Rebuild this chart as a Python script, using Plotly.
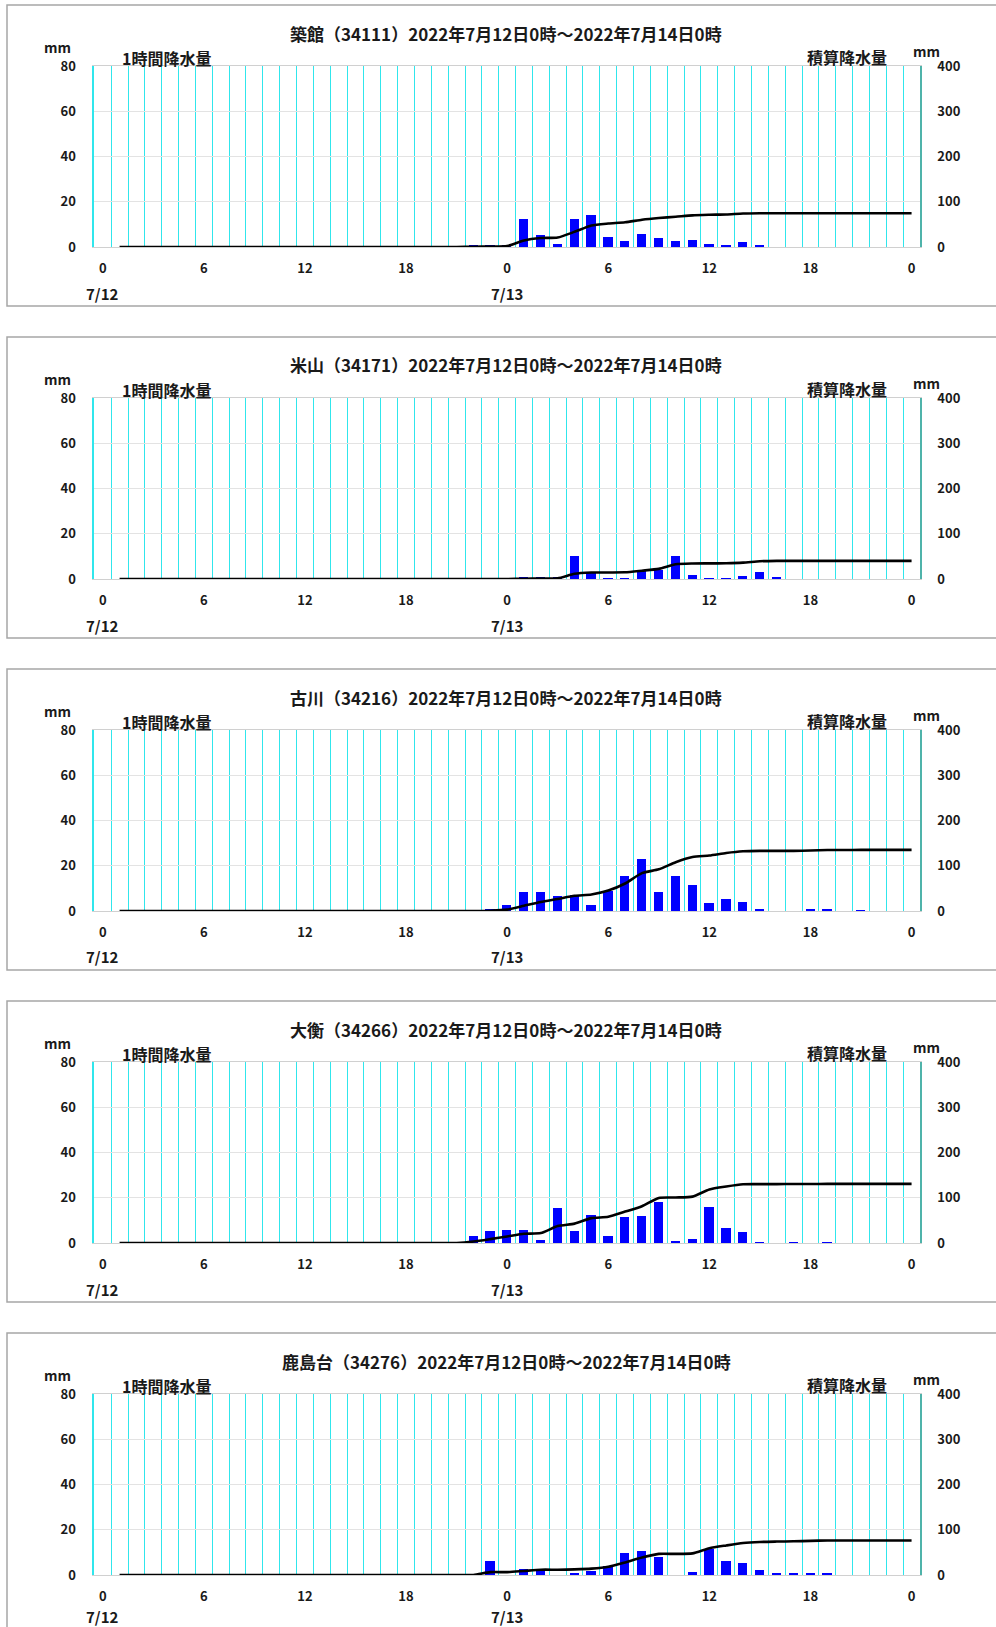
import numpy as np
import plotly.graph_objects as go

# ---- data -------------------------------------------------------------
# hour-ending positions 1..48 (0 = 7/12 0時, 24 = 7/13 0時, 48 = 7/14 0時)
HOURS = list(range(1, 49))
X_TICKVALS = [0, 6, 12, 18, 24, 30, 36, 42, 48]
X_TICKTEXT = ["0", "6", "12", "18", "0", "6", "12", "18", "0"]
DAY_LABELS = ["7/12", "7/13"]
DAY_POS = [0, 24]

STATIONS = ["築館（34111）", "米山（34171）", "古川（34216）", "大衡（34266）", "鹿島台（34276）"]
PERIOD = "2022年7月12日0時～2022年7月14日0時"

# 1時間降水量 (mm), hours 1..48
rain_tsukidate = [0] * 21 + [
    0.5, 0.5, 1.0, 12.5, 5.3, 1.2, 12.5, 14.0, 4.3, 2.8, 5.6, 3.8,
    2.8, 3.2, 1.2, 0.7, 2.1, 0.6] + [0] * 9
rain_yoneyama = [0] * 24 + [
    0.5, 0.5, 0.5, 10.0, 2.7, 0.3, 0.3, 3.6, 4.0, 10.0, 1.8, 0.3,
    0.3, 1.3, 3.2, 0.8] + [0] * 8
rain_furukawa = [0] * 22 + [
    0.5, 2.5, 8.5, 8.5, 6.5, 7.1, 2.8, 8.7, 15.6, 23.0, 8.5, 15.6,
    11.5, 3.4, 5.4, 3.8, 1.0, 0, 0, 0.9, 0.9, 0, 0.4] + [0] * 3
rain_ohira = [0] * 21 + [
    3.2, 5.4, 5.9, 5.9, 1.5, 15.5, 5.4, 12.2, 2.9, 11.5, 12.0, 18.3,
    0.9, 1.9, 15.8, 6.5, 5.0, 0.3, 0, 0.3, 0, 0.3] + [0] * 5
rain_kashimadai = [0] * 22 + [
    6.3, 0, 2.7, 2.7, 0, 0.7, 1.6, 4.1, 9.7, 10.8, 8.0, 0,
    1.2, 11.5, 6.0, 5.3, 2.4, 0.9, 0.6, 0.9, 0.9] + [0] * 5

HOURLY = [rain_tsukidate, rain_yoneyama, rain_furukawa, rain_ohira, rain_kashimadai]

# ---- page geometry (pixels) -----------------------------------------
W, H = 996, 1627
PANEL_STEP = 332
PLOT_LEFT, PLOT_RIGHT = 94.3, 920.0
PLOT_TOP, PLOT_BOTTOM = 66.0, 247.0

FONT = "Noto Sans CJK JP, Noto Sans, sans-serif"
TEXT = "#1a1a1a"
CYAN = "#30e6ec"
TEAL = "#4fb3aa"
GRID = "#e3e3e3"


def px(x):
    return x / W


def py(y):
    return 1 - y / H


fig = go.Figure()
annotations = []
shapes = []

for i, (name, hourly) in enumerate(zip(STATIONS, HOURLY)):
    off = PANEL_STEP * i
    n = i + 1
    xa = "x" if n == 1 else f"x{n}"
    ya_l = f"y{2 * n - 1}" if n > 1 else "y"
    ya_r = f"y{2 * n}"
    cumulative = np.cumsum(hourly)

    fig.add_trace(go.Bar(
        x=HOURS, y=hourly, xaxis=xa, yaxis=ya_l,
        marker=dict(color="#0000ff", line=dict(width=0)),
        width=0.55, showlegend=False, name="1時間降水量"))
    fig.add_trace(go.Scatter(
        x=HOURS, y=cumulative, xaxis=xa, yaxis=ya_r, mode="lines",
        line=dict(color="black", width=2.6, shape="spline", smoothing=0.6),
        showlegend=False, name="積算降水量"))

    dom_y = [py(PLOT_BOTTOM + off), py(PLOT_TOP + off)]
    xkey = "xaxis" if n == 1 else f"xaxis{n}"
    ykey_l = "yaxis" if n == 1 else f"yaxis{2 * n - 1}"
    ykey_r = f"yaxis{2 * n}"

    fig.layout[xkey] = dict(
        domain=[px(PLOT_LEFT), px(PLOT_RIGHT)], anchor=ya_l,
        range=[-0.5, 48.5], tickmode="array",
        tickvals=X_TICKVALS, ticktext=X_TICKTEXT,
        showgrid=False, zeroline=False,
        showline=True, mirror=True, linecolor="#d0d0d0", linewidth=1,
        ticks="outside", ticklen=9, tickcolor="rgba(0,0,0,0)",
        tickfont=dict(family=FONT, size=13, color=TEXT, weight="bold"),
        minor=dict(tickmode="linear", tick0=-0.5, dtick=1, showgrid=True,
                   gridcolor=CYAN, gridwidth=1.3, ticks=""),
        fixedrange=True)
    fig.layout[ykey_l] = dict(
        domain=dom_y, anchor=xa, range=[0, 80], tickmode="array",
        tickvals=[0, 20, 40, 60, 80], showgrid=True, gridcolor=GRID,
        gridwidth=1, zeroline=False, showline=True, linecolor=CYAN,
        linewidth=1.5, ticks="outside", ticklen=14,
        tickcolor="rgba(0,0,0,0)",
        tickfont=dict(family=FONT, size=13, color=TEXT, weight="bold"),
        fixedrange=True)
    fig.layout[ykey_r] = dict(
        overlaying=ya_l, side="right", anchor=xa, range=[0, 400],
        tickmode="array", tickvals=[0, 100, 200, 300, 400],
        showgrid=False, zeroline=False, showline=True, linecolor=TEAL,
        linewidth=1.5, ticks="outside", ticklen=13,
        tickcolor="rgba(0,0,0,0)",
        tickfont=dict(family=FONT, size=13, color=TEXT, weight="bold"),
        fixedrange=True)

    # panel frame
    shapes.append(dict(type="rect", xref="paper", yref="paper",
                       x0=px(7), x1=px(1002), y0=py(306 + off), y1=py(5 + off),
                       line=dict(color="#a6a6a6", width=1.5),
                       fillcolor="rgba(0,0,0,0)", layer="below"))

    annotations += [
        dict(text=f"<b>{name}{PERIOD}</b>", x=px(506), y=py(33 + off),
             font=dict(size=17)),
        dict(text="<b>mm</b>", x=px(57), y=py(47 + off), font=dict(size=14)),
        dict(text="<b>1時間降水量</b>", x=px(166), y=py(58 + off),
             font=dict(size=16)),
        dict(text="<b>積算降水量</b>", x=px(847), y=py(57 + off),
             font=dict(size=16)),
        dict(text="<b>mm</b>", x=px(926), y=py(51 + off), font=dict(size=14)),
    ]
    # date labels under the hour ticks; kept inside the page at the bottom
    day_y = min(293 + off, H - 11)
    for lab, pos in zip(DAY_LABELS, DAY_POS):
        annotations.append(dict(text=f"<b>{lab}</b>", x=pos, xref=xa,
                                y=py(day_y), font=dict(size=15)))

for a in annotations:
    a.setdefault("xref", "paper")
    a["yref"] = "paper"
    a["showarrow"] = False
    a["xanchor"] = "center"
    a["yanchor"] = "middle"
    a["font"] = dict(family=FONT, color=TEXT, size=a["font"]["size"])

fig.update_layout(
    width=W, height=H,
    margin=dict(l=0, r=0, t=0, b=0, pad=0, autoexpand=False),
    paper_bgcolor="white", plot_bgcolor="white",
    annotations=annotations, shapes=shapes, bargap=0,
    font=dict(family=FONT, color=TEXT))

fig.write_html(
    "out.html", config={"displayModeBar": False},
    post_script="document.body.style.margin='0';"
                "document.body.style.overflow='hidden';")
